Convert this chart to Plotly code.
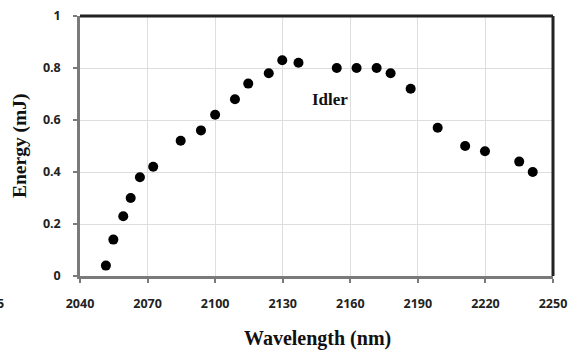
import plotly.graph_objects as go

wavelength = [2051.5, 2054.8, 2059.2, 2062.5, 2066.6, 2072.5, 2084.7, 2093.7, 2100.0,
              2108.8, 2114.7, 2123.8, 2129.8, 2137.0, 2154.0, 2162.8, 2171.7, 2177.9,
              2186.8, 2198.8, 2211.0, 2219.8, 2235.0, 2241.0]
energy = [0.04, 0.14, 0.23, 0.30, 0.38, 0.42, 0.52, 0.56, 0.62,
          0.68, 0.74, 0.78, 0.83, 0.82, 0.80, 0.80, 0.80, 0.78,
          0.72, 0.57, 0.50, 0.48, 0.44, 0.40]
x_ticks = [2040, 2070, 2100, 2130, 2160, 2190, 2220, 2250]
y_ticks = [0, 0.2, 0.4, 0.6, 0.8, 1]
y_tick_text = ["0", "0.2", "0.4", "0.6", "0.8", "1"]

W, H = 571, 354
L, R, T, B = 80, 18, 16, 78
pw, ph = W - L - R, H - T - B

fig = go.Figure()
fig.add_trace(go.Scatter(
    x=wavelength, y=energy, mode="markers",
    marker=dict(color="black", size=10),
    showlegend=False, cliponaxis=False,
))

tickfont = dict(family="Open Sans", size=12.5, color="#222222", weight="bold")
fig.update_layout(
    width=W, height=H,
    margin=dict(l=L, r=R, t=T, b=B),
    paper_bgcolor="white", plot_bgcolor="white",
    xaxis=dict(
        range=[2040, 2250], tickvals=x_ticks, ticktext=[str(v) for v in x_ticks],
        showgrid=True, gridcolor="#dedede", gridwidth=1,
        showline=True, linecolor="#7a7a7a", linewidth=2.5,
        ticks="outside", ticklen=4, tickcolor="#7a7a7a", tickwidth=1.5,
        tickfont=tickfont, ticklabelstandoff=10,
        zeroline=False, automargin=False,
    ),
    yaxis=dict(
        range=[0, 1], tickvals=y_ticks, ticktext=y_tick_text,
        showgrid=True, gridcolor="#dedede", gridwidth=1,
        showline=True, linecolor="#7a7a7a", linewidth=2.5,
        ticks="outside", ticklen=4, tickcolor="#7a7a7a", tickwidth=1.5,
        tickfont=tickfont, ticklabelstandoff=10,
        zeroline=False, automargin=False,
    ),
    shapes=[
        dict(type="line", xref="paper", yref="paper", x0=0, x1=1, y0=1, y1=1,
             line=dict(color="#222222", width=3)),
        dict(type="line", xref="paper", yref="paper", x0=1, x1=1, y0=0, y1=1,
             line=dict(color="#222222", width=3)),
    ],
    annotations=[
        dict(text="Idler", x=2151, y=0.68, xref="x", yref="y", showarrow=False,
             font=dict(family="Liberation Serif", size=17, color="#111111", weight="bold")),
        dict(text="Wavelength (nm)", x=(317 - L) / pw, y=-(338 - T - ph) / ph,
             xref="paper", yref="paper", showarrow=False,
             xanchor="center", yanchor="middle",
             font=dict(family="Liberation Serif", size=20, color="#111111", weight="bold")),
        dict(text="Energy (mJ)", x=(20 - L) / pw, y=0.5, textangle=-90,
             xref="paper", yref="paper", showarrow=False,
             xanchor="center", yanchor="middle",
             font=dict(family="Liberation Serif", size=19.5, color="#111111", weight="bold")),
        dict(text="5", x=(6 - L) / pw, y=-(303 - T - ph) / ph, xref="paper", yref="paper",
             showarrow=False, xanchor="right", yanchor="middle",
             font=dict(family="Open Sans", size=12.5, color="#222222", weight="bold")),
    ],
)

fig.write_html("out.html", config={"displayModeBar": False},
               post_script="document.body.style.margin='0px';document.body.style.overflow='hidden';")
